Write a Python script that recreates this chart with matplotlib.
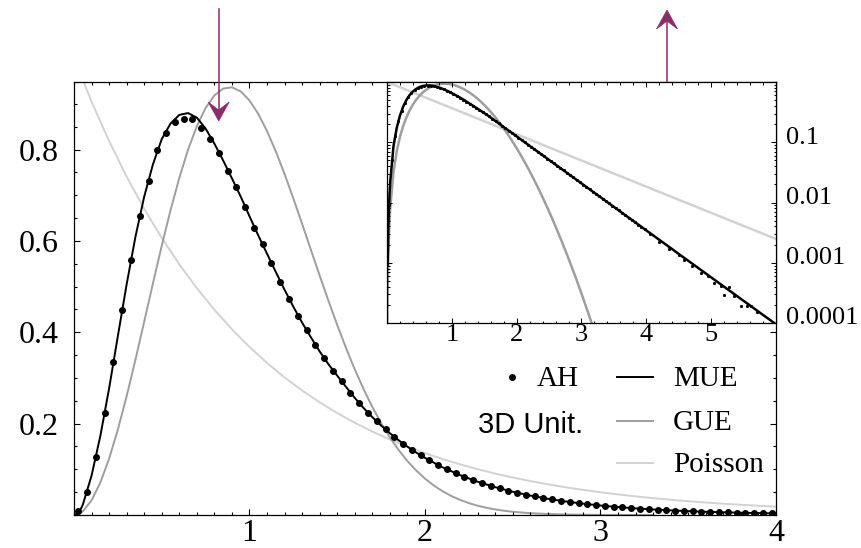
import matplotlib
matplotlib.use("Agg")
import matplotlib.pyplot as plt
from matplotlib.lines import Line2D
from matplotlib.patches import Polygon
from matplotlib.ticker import FixedLocator, MultipleLocator, LogLocator, NullFormatter
from matplotlib.transforms import ScaledTranslation

# ---------------- data ----------------
# MUE curve
MUE_S = [0.0, 0.01, 0.02, 0.03, 0.04,
         0.05, 0.10, 0.15, 0.20, 0.25, 0.30, 0.35, 0.40, 0.45, 0.50,
         0.55, 0.60, 0.65, 0.70, 0.75, 0.80, 0.85, 0.90, 0.95, 1.00,
         1.05, 1.10, 1.15, 1.20, 1.25, 1.30, 1.35, 1.40, 1.45, 1.50,
         1.55, 1.60, 1.65, 1.70, 1.75, 1.80, 1.85, 1.90, 1.95, 2.00,
         2.1, 2.2, 2.3, 2.4, 2.5, 2.6, 2.7, 2.8, 2.9, 3.0,
         3.1, 3.2, 3.3, 3.4, 3.5, 3.6, 3.7, 3.8, 3.9, 4.0,
         4.1, 4.2, 4.3, 4.4, 4.5, 4.6, 4.7, 4.8, 4.9, 5.0,
         5.1, 5.2, 5.3, 5.4, 5.5, 5.6, 5.7, 5.8, 5.9, 6.0]
MUE_P = [0.0, 0.0009, 0.0036, 0.0081, 0.0143,
         0.0223, 0.086, 0.173, 0.277, 0.392, 0.505, 0.609, 0.697, 0.768, 0.823,
         0.857, 0.876, 0.880, 0.870, 0.846, 0.813, 0.776, 0.737, 0.697, 0.654,
         0.612, 0.572, 0.532, 0.493, 0.456, 0.421, 0.389, 0.358, 0.330, 0.305,
         0.2804, 0.2563, 0.2343, 0.2142, 0.1958, 0.1790, 0.1636, 0.1496, 0.1367, 0.1250,
         0.1044, 0.08725, 0.07291, 0.06092, 0.05091, 0.04254, 0.03555, 0.02970, 0.02482, 0.02074,
         0.01733, 0.01448, 0.01210, 0.01011, 0.00845, 0.00706, 0.00590, 0.00493, 0.00412, 0.00344,
         0.00288, 0.00240, 0.00201, 0.00168, 0.00140, 0.00117, 0.000980, 0.000819, 0.000684, 0.000572,
         0.000478, 0.000399, 0.000334, 0.000279, 0.000233, 0.000195, 0.000163, 0.000136, 0.000114, 0.0000950]

# GUE curve
GUE_S = [0.0, 0.005, 0.01, 0.02, 0.03, 0.04,
         0.05, 0.10, 0.15, 0.20, 0.25, 0.30, 0.35, 0.40, 0.45, 0.50,
         0.55, 0.60, 0.65, 0.70, 0.75, 0.80, 0.85, 0.90, 0.95, 1.00,
         1.05, 1.10, 1.15, 1.20, 1.25, 1.30, 1.35, 1.40, 1.45, 1.50,
         1.55, 1.60, 1.65, 1.70, 1.75, 1.80, 1.85, 1.90, 1.95, 2.00,
         2.05, 2.10, 2.15, 2.20, 2.25, 2.30, 2.35, 2.40, 2.45, 2.50,
         2.6, 2.7, 2.8, 2.9, 3.0, 3.1, 3.2, 3.3]
GUE_P = [0.0, 0.000081, 0.000324, 0.001296, 0.002915, 0.005177,
         0.008080, 0.032013, 0.070891, 0.123252, 0.187140, 0.260212, 0.339820, 0.423152, 0.507342, 0.589590,
         0.667275, 0.738052, 0.799928, 0.851324, 0.891113, 0.918620, 0.933629, 0.936346, 0.927372, 0.907588,
         0.878194, 0.840521, 0.796076, 0.746363, 0.692899, 0.637134, 0.580423, 0.523965, 0.468798, 0.415786,
         0.365612, 0.318795, 0.275664, 0.236428, 0.201130, 0.169750, 0.142138, 0.118076, 0.097337, 0.079628,
         0.064645, 0.052088, 0.041655, 0.033065, 0.026053, 0.020377, 0.015822, 0.012196, 0.009333, 0.007091,
         0.004007, 0.002200, 0.0011748, 0.0006099, 0.00030792, 0.00015122, 0.000072248, 0.00003358]

# Poisson curve
POI_S = [0.0, 0.1, 0.2, 0.3, 0.4, 0.5, 0.6, 0.7, 0.8, 0.9,
         1.0, 1.1, 1.2, 1.3, 1.4, 1.5, 1.6, 1.7, 1.8, 1.9,
         2.0, 2.1, 2.2, 2.3, 2.4, 2.5, 2.6, 2.7, 2.8, 2.9,
         3.0, 3.1, 3.2, 3.3, 3.4, 3.5, 3.6, 3.7, 3.8, 3.9,
         4.0, 4.1, 4.2, 4.3, 4.4, 4.5, 4.6, 4.7, 4.8, 4.9,
         5.0, 5.1, 5.2, 5.3, 5.4, 5.5, 5.6, 5.7, 5.8, 5.9, 6.0]
POI_P = [1.0, 0.904837, 0.818731, 0.740818, 0.670320, 0.606531, 0.548812, 0.496585, 0.449329, 0.406570,
         0.367879, 0.332871, 0.301194, 0.272532, 0.246597, 0.223130, 0.201897, 0.182684, 0.165299, 0.149569,
         0.135335, 0.122456, 0.110803, 0.100259, 0.090718, 0.082085, 0.074274, 0.067206, 0.060810, 0.055023,
         0.049787, 0.045049, 0.040762, 0.036883, 0.033373, 0.030197, 0.027324, 0.024724, 0.022371, 0.020242,
         0.018316, 0.016573, 0.014996, 0.013569, 0.012277, 0.011109, 0.010052, 0.009095, 0.008230, 0.007447,
         0.006738, 0.006097, 0.005517, 0.004992, 0.004517, 0.004087, 0.003698, 0.003346, 0.003028, 0.002739,
         0.002479]

# AH data points (histogram)
AH_S = [0.025, 0.075, 0.125, 0.175, 0.225, 0.275, 0.325, 0.375, 0.425, 0.475,
        0.525, 0.575, 0.625, 0.675, 0.725, 0.775, 0.825, 0.875, 0.925, 0.975,
        1.025, 1.075, 1.125, 1.175, 1.225, 1.275, 1.325, 1.375, 1.425, 1.475,
        1.525, 1.575, 1.625, 1.675, 1.725, 1.775, 1.825, 1.875, 1.925, 1.975,
        2.025, 2.075, 2.125, 2.175, 2.225, 2.275, 2.325, 2.375, 2.425, 2.475,
        2.525, 2.575, 2.625, 2.675, 2.725, 2.775, 2.825, 2.875, 2.925, 2.975,
        3.025, 3.075, 3.125, 3.175, 3.225, 3.275, 3.325, 3.375, 3.425, 3.475,
        3.525, 3.575, 3.625, 3.675, 3.725, 3.775, 3.825, 3.875, 3.925, 3.975]
AH_P = [0.009, 0.050, 0.126, 0.223, 0.334, 0.449, 0.559, 0.655, 0.732, 0.799,
        0.836, 0.860, 0.867, 0.867, 0.847, 0.824, 0.793, 0.753, 0.718, 0.674,
        0.629, 0.594, 0.551, 0.511, 0.474, 0.435, 0.404, 0.372, 0.343, 0.316,
        0.2933, 0.2681, 0.2451, 0.2240, 0.2048, 0.1872, 0.1711, 0.1564, 0.1430, 0.1307,
        0.1195, 0.1092, 0.0998, 0.0913, 0.0834, 0.0763, 0.0697, 0.0637, 0.0582, 0.0532,
        0.0487, 0.0445, 0.0407, 0.0372, 0.0340, 0.0311, 0.0284, 0.0260, 0.0237, 0.0217,
        0.0198, 0.0181, 0.0166, 0.0151, 0.0138, 0.0127, 0.0116, 0.0106, 0.0097, 0.0088,
        0.0081, 0.0074, 0.0068, 0.0062, 0.0056, 0.0052, 0.0047, 0.0043, 0.0039, 0.0036]

# extra AH points visible only in the (log) inset tail
AH_TAIL_S = [4.05, 4.2, 4.35, 4.5, 4.58, 4.7, 4.84, 4.95, 5.05, 5.15,
             5.2, 5.27, 5.35, 5.455, 5.55, 5.61, 5.7]
AH_TAIL_P = [0.0030, 0.0022, 0.0017, 0.00135, 0.00112, 0.00090, 0.00068, 0.00060, 0.00047, 0.00041,
             0.000295, 0.00039, 0.00028, 0.000194, 0.00019, 0.000194, 0.00015]

MAIN_XTICKS = [1, 2, 3, 4]
MAIN_YTICKS = [0.2, 0.4, 0.6, 0.8]
MAIN_YLABELS = ["0.2", "0.4", "0.6", "0.8"]
INSET_XTICKS = [1, 2, 3, 4, 5]
INSET_YTICKS = [1e-4, 1e-3, 1e-2, 1e-1]
INSET_YLABELS = ["0.0001", "0.001", "0.01", "0.1"]

LEG_AH = "AH"
LEG_MUE = "MUE"
LEG_GUE = "GUE"
LEG_POI = "Poisson"
LEG_SYS = "3D Unit."

# ---------------- style ----------------
W, H = 862, 548
SERIF = ["Liberation Serif", "DejaVu Serif"]
SANS = ["Liberation Sans", "DejaVu Sans"]
C_MUE = "black"
C_GUE = "#9e9e9e"
C_POI = "#d2d2d2"
C_ARROW = "#8c2c68"

fig = plt.figure(figsize=(W / 100, H / 100), dpi=100)


def fx(px):
    return px / W


def fy(py):
    return 1 - py / H


# ---------------- main axes ----------------
ax = fig.add_axes([fx(74), fy(515), (776 - 74) / W, (515 - 82) / H])
ax.plot(POI_S, POI_P, color=C_POI, lw=1.4, zorder=1)
ax.plot(GUE_S, GUE_P, color=C_GUE, lw=1.4, zorder=1.5)
ax.plot(MUE_S, MUE_P, color=C_MUE, lw=1.4, zorder=2)
ax.plot(AH_S, AH_P, ls="none", marker="o", ms=4.0, color="black", zorder=3)
ax.set_xlim(0, 4)
ax.set_ylim(0, 0.948)
ax.xaxis.set_major_locator(FixedLocator(MAIN_XTICKS))
ax.xaxis.set_minor_locator(MultipleLocator(0.1))
ax.yaxis.set_major_locator(FixedLocator(MAIN_YTICKS))
ax.yaxis.set_minor_locator(MultipleLocator(0.05))
ax.set_xticklabels([str(t) for t in MAIN_XTICKS])
ax.set_yticklabels(MAIN_YLABELS)
ax.tick_params(which="both", direction="in", top=True, right=True, width=0.8, color="black")
ax.tick_params(which="major", length=4.5)
ax.tick_params(which="minor", length=2.4)
ax.tick_params(axis="x", which="major", pad=3)
ax.tick_params(axis="y", which="major", pad=11)
for lbl in ax.get_xticklabels() + ax.get_yticklabels():
    lbl.set_fontfamily(SERIF)
    lbl.set_fontsize(23)
for sp in ax.spines.values():
    sp.set_linewidth(0.9)

# ---------------- inset ----------------
axi = fig.add_axes([fx(387), fy(323), (776 - 387) / W, (323 - 82) / H], zorder=5)
axi.set_facecolor("white")
axi.set_yscale("log")
axi.plot(POI_S, POI_P, color=C_POI, lw=1.8, zorder=1)
axi.plot(GUE_S[1:], GUE_P[1:], color=C_GUE, lw=1.8, zorder=1.5)
axi.plot(MUE_S[1:], MUE_P[1:], color=C_MUE, lw=1.8, zorder=2)
axi.plot(AH_S + AH_TAIL_S, AH_P + AH_TAIL_P, ls="none", marker="s", ms=1.1, color="black", zorder=3)
axi.set_xlim(0, 6)
axi.set_ylim(1e-4, 1)
axi.xaxis.set_major_locator(FixedLocator(INSET_XTICKS))
axi.xaxis.set_minor_locator(MultipleLocator(0.2))
axi.yaxis.set_major_locator(FixedLocator(INSET_YTICKS))
axi.yaxis.set_minor_locator(LogLocator(base=10, subs=[2, 3, 4, 5, 6, 7, 8, 9], numticks=20))
axi.yaxis.set_minor_formatter(NullFormatter())
axi.set_xticklabels([str(t) for t in INSET_XTICKS])
axi.set_yticklabels(INSET_YLABELS)
axi.tick_params(which="both", direction="in", top=True, right=True, left=True,
                labelleft=False, labelright=True, width=0.7, color="black")
axi.tick_params(which="major", length=3.5)
axi.tick_params(which="minor", length=1.8)
axi.tick_params(axis="x", which="major", pad=1.0)
axi.tick_params(axis="y", which="major", pad=7)
shift = ScaledTranslation(0, 7 / 100, fig.dpi_scale_trans)
for lbl in axi.get_yticklabels():
    lbl.set_transform(lbl.get_transform() + shift)
for lbl in axi.get_xticklabels() + axi.get_yticklabels():
    lbl.set_fontfamily(SERIF)
    lbl.set_fontsize(19)
for sp in axi.spines.values():
    sp.set_linewidth(0.9)

# ---------------- legend (hand placed) ----------------
fig.add_artist(Line2D([fx(512)], [fy(377)], marker="o", ms=4.0, color="black",
                      ls="none", transform=fig.transFigure))
fig.text(fx(537), fy(386.5), LEG_AH, fontfamily=SERIF, fontsize=21, ha="left", va="baseline")
fig.add_artist(Line2D([fx(617), fx(653)], [fy(377), fy(377)], color=C_MUE, lw=1.4,
                      transform=fig.transFigure))
fig.text(fx(673), fy(386.5), LEG_MUE, fontfamily=SERIF, fontsize=21, ha="left", va="baseline")
fig.text(fx(478), fy(433), LEG_SYS, fontfamily=SANS, fontsize=21, ha="left", va="baseline")
fig.add_artist(Line2D([fx(617), fx(653)], [fy(421), fy(421)], color=C_GUE, lw=1.4,
                      transform=fig.transFigure))
fig.text(fx(673), fy(430), LEG_GUE, fontfamily=SERIF, fontsize=21, ha="left", va="baseline")
fig.add_artist(Line2D([fx(617), fx(653)], [fy(463), fy(463)], color=C_POI, lw=1.4,
                      transform=fig.transFigure))
fig.text(fx(673), fy(471.5), LEG_POI, fontfamily=SERIF, fontsize=21, ha="left", va="baseline")


# ---------------- arrows ----------------
def arrow(x, y_start, y_tip):
    d = 1 if y_tip > y_start else -1   # +1 pointing down (pixel y grows downward)
    back = y_tip - d * 19
    notch = y_tip - d * 11
    fig.add_artist(Line2D([fx(x), fx(x)], [fy(y_start), fy(notch)], color=C_ARROW, lw=1.1,
                          transform=fig.transFigure))
    pts = [(fx(x), fy(y_tip)), (fx(x - 10.5), fy(back)), (fx(x), fy(notch)), (fx(x + 10.5), fy(back))]
    fig.add_artist(Polygon(pts, closed=True, facecolor=C_ARROW, edgecolor=C_ARROW, lw=0.5,
                           transform=fig.transFigure))


arrow(218.7, 9, 121)
arrow(667, 234, 10)

fig.savefig("out.png", dpi=100)
